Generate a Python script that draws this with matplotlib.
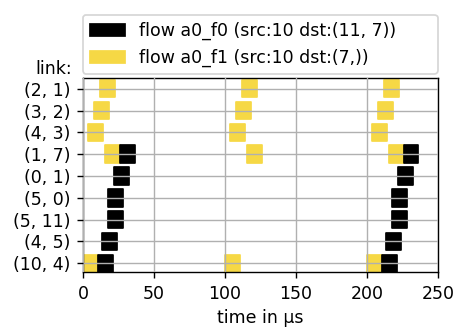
import numpy as np
import matplotlib
matplotlib.use("Agg")
import matplotlib.pyplot as plt
from matplotlib.patches import Patch

# links, bottom to top
links = ["(10, 4)", "(4, 5)", "(5, 11)", "(5, 0)", "(0, 1)", "(1, 7)", "(4, 3)", "(3, 2)", "(2, 1)"]

# flow a0_f0 (black): link index, start time (us); repeats with period 200
f0_links = [0, 1, 2, 3, 4, 5]
f0_start = [10.5, 13.3, 17.5, 17.5, 21.7, 25.9]
f0_period = 200
f0_reps = 2

# flow a0_f1 (yellow): period 100
f1_links = [0, 6, 7, 8, 5]
f1_start = [0.0, 3.5, 7.7, 11.9, 15.4]
f1_period = 100
f1_reps = 3

duration = 10.5

c_f0 = "#000000"
c_f1 = "#f6d845"

fig = plt.figure(figsize=(3.648, 2.616), dpi=125)
ax = fig.add_axes([0.182, 0.167, 0.778, 0.595])

for r in range(f1_reps):
    for li, s in zip(f1_links, f1_start):
        ax.broken_barh([(s + r * f1_period, duration)], (li - 0.4, 0.8), color=c_f1, zorder=1)
for r in range(f0_reps):
    for li, s in zip(f0_links, f0_start):
        ax.broken_barh([(s + r * f0_period, duration)], (li - 0.4, 0.8), color=c_f0, zorder=1)

ax.set_xlim(0, 250)
ax.set_ylim(-0.42, 8.5)
ax.set_yticks(range(len(links)))
ax.set_yticklabels(links)
ax.set_xticks([0, 50, 100, 150, 200, 250])
ax.grid(True, zorder=2)
ax.set_axisbelow(False)
ax.set_xlabel("time in µs")
ax.text(-0.03, 1.0, "link:", transform=ax.transAxes, ha="right", va="bottom", fontsize=10)

handles = [Patch(color=c_f0, label="flow a0_f0 (src:10 dst:(11, 7))"),
           Patch(color=c_f1, label="flow a0_f1 (src:10 dst:(7,))")]
ax.legend(handles=handles, loc="lower left", bbox_to_anchor=(0, 1.02, 1, 0.2),
          mode="expand", borderaxespad=0, fontsize=10)

fig.savefig("out.png", dpi=125)
